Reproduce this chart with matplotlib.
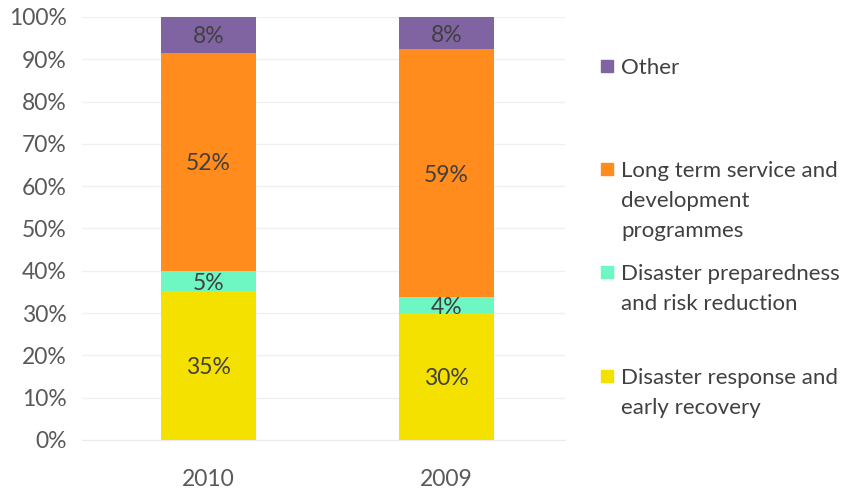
import matplotlib.pyplot as plt
from matplotlib.patches import Rectangle
import numpy as np

#%% data
years = ['2010', '2009']
categories = ['Disaster response and\nearly recovery',
              'Disaster preparedness\nand risk reduction',
              'Long term service and\ndevelopment\nprogrammes',
              'Other']
response = [35.2, 30.0]
preparedness = [4.7, 3.8]
longterm = [51.7, 58.6]
other = [8.4, 7.6]
labels = [['35%', '30%'], ['5%', '4%'], ['52%', '59%'], ['8%', '8%']]

colors = ['#F5E100', '#6FF7C3', '#FF8C1C', '#8064A2']
series = [response, preparedness, longterm, other]

#%% plot
plt.rcParams['font.family'] = ['Lato', 'DejaVu Sans']
fig = plt.figure(figsize=(8.45, 4.93), dpi=100)
W, H = 845, 493
ax = fig.add_axes([82 / W, 1 - 440 / H, (565 - 82) / W, (440 - 17) / H])

x = np.arange(len(years))
bottom = np.zeros(len(years))
for vals, col, lab in zip(series, colors, labels):
    vals = np.array(vals)
    ax.bar(x, vals, width=0.4, bottom=bottom, color=col, zorder=2)
    for xi, b, v, t in zip(x, bottom, vals, lab):
        ax.text(xi, b + v / 2, t, ha='center', va='center_baseline', fontsize=16.5,
                color='#404040', zorder=3)
    bottom += vals

ax.set_xlim(-0.531, 1.498)
ax.set_ylim(0, 100)
ax.set_yticks(np.arange(0, 101, 10))
ax.set_yticklabels([f'{v}%' for v in range(0, 101, 10)])
ax.set_xticks(x)
ax.set_xticklabels(years)
ax.tick_params(length=0, labelsize=16.5, colors='#595959')
ax.tick_params(axis='y', pad=11)
ax.tick_params(axis='x', pad=21)
ax.grid(axis='y', color='#F0F0F0', linewidth=1, zorder=0)
for s in ['top', 'right', 'left']:
    ax.spines[s].set_visible(False)
ax.spines['bottom'].set_color('#EAEAEA')

# legend, drawn by hand (uneven spacing like the original)
leg_y = [376, 272, 169, 66]
for cat, col, yc in zip(categories, colors, leg_y):
    fig.patches.append(Rectangle((601 / W, 1 - (yc + 6) / H), 12 / W, 12 / H,
                                 transform=fig.transFigure, color=col))
    for i, line in enumerate(cat.split('\n')):
        fig.text(621 / W, 1 - (yc + i * 30) / H, line, ha='left',
                 va='center_baseline', fontsize=16, color='#404040')

fig.savefig('out.png', dpi=100)
